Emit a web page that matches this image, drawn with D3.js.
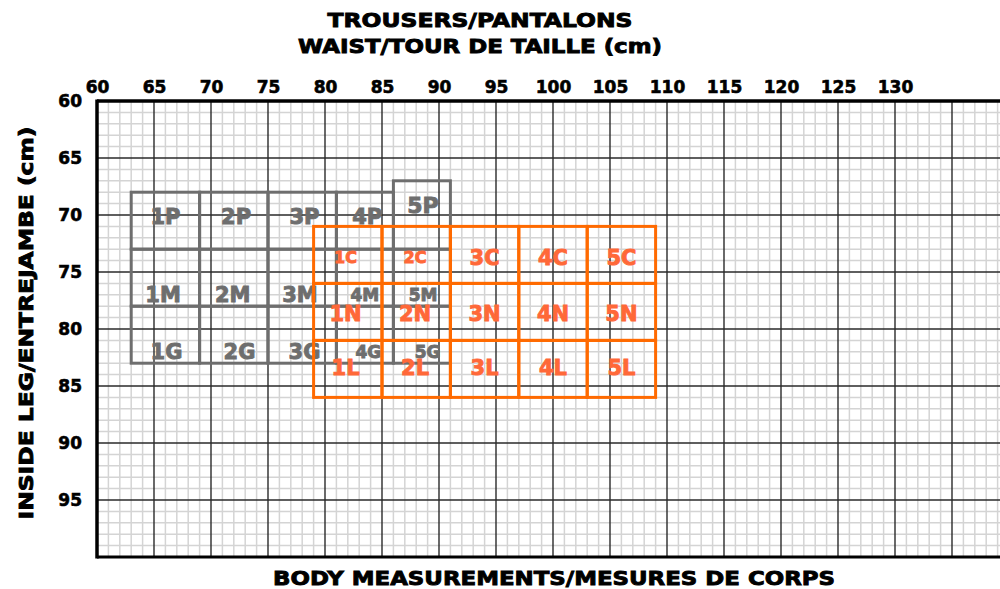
<!DOCTYPE html>
<html>
<head>
<meta charset="utf-8">
<script src="https://cdn.jsdelivr.net/npm/d3@7"></script>
<style>
  body { margin: 0; background: #fff; }
  text { font-family: "DejaVu Sans", sans-serif; font-weight: bold; }
</style>
</head>
<body>
<div id="chart"></div>
<script>
const width = 1000;
const height = 589;

// tick labels (cm)
const waistTicks = [60, 65, 70, 75, 80, 85, 90, 95, 100, 105, 110, 115, 120, 125, 130];
const legTicks = [60, 65, 70, 75, 80, 85, 90, 95];

// grey size boxes : waist from x0 to x1, inside leg from y0 to y1, label centre lx/ly
const greyCells = [
  {name: "1P", x0: 63, x1: 69, y0: 68, y1: 73, lx: 66,   ly: 70.1},
  {name: "2P", x0: 69, x1: 75, y0: 68, y1: 73, lx: 72.2, ly: 70.1},
  {name: "3P", x0: 75, x1: 81, y0: 68, y1: 73, lx: 78.2, ly: 70.1},
  {name: "4P", x0: 81, x1: 86, y0: 68, y1: 73, lx: 83.7, ly: 70.1},
  {name: "5P", x0: 86, x1: 91, y0: 67, y1: 73, lx: 88.6, ly: 69.1},
  {name: "1M", x0: 63, x1: 69, y0: 73, y1: 78, lx: 65.8, ly: 77},
  {name: "2M", x0: 69, x1: 75, y0: 73, y1: 78, lx: 71.9, ly: 77},
  {name: "3M", x0: 75, x1: 81, y0: 73, y1: 78, lx: 77.8, ly: 77},
  {name: "4M", x0: 81, x1: 86, y0: 73, y1: 78, lx: 83.5, ly: 77},
  {name: "5M", x0: 86, x1: 91, y0: 73, y1: 78, lx: 88.6, ly: 77},
  {name: "1G", x0: 63, x1: 69, y0: 78, y1: 83, lx: 66.1, ly: 82},
  {name: "2G", x0: 69, x1: 75, y0: 78, y1: 83, lx: 72.5, ly: 82},
  {name: "3G", x0: 75, x1: 81, y0: 78, y1: 83, lx: 78.2, ly: 82},
  {name: "4G", x0: 81, x1: 86, y0: 78, y1: 83, lx: 83.8, ly: 82},
  {name: "5G", x0: 86, x1: 91, y0: 78, y1: 83, lx: 89,   ly: 82}
];

// orange size boxes
const orangeCols = [79, 85, 91, 97, 103, 109];
const orangeRows = [71, 76, 81, 86];
const orangeRowNames = ["C", "N", "L"];
const orangeLabelX = [81.8, 87.9, 94, 100, 106];
const orangeLabelY = [73.7, 78.6, 83.4];

const smallLabels = ["4M", "5M", "4G", "5G", "1C", "2C"];

const grey = "#6e6e6e";
const orange = "#ff6a00";
const orangeText = "#ff6838";

let x = d3.scaleLinear().domain([60, 140]).range([97, 1009]);
let y = d3.scaleLinear().domain([60, 100]).range([101, 557]);

let svg = d3.select("#chart")
  .append("svg")
  .attr("width", width)
  .attr("height", height);

// minor grid
let minorX = d3.range(61, 140).filter(d => d % 5 != 0);
let minorY = d3.range(61, 100).filter(d => d % 5 != 0);

svg.append("g").selectAll("line")
  .data(minorX).enter()
  .append("line")
  .attr("x1", d => x(d)).attr("x2", d => x(d))
  .attr("y1", y(60)).attr("y2", y(100))
  .attr("stroke", "#d4d4d4").attr("stroke-width", 1.5);

svg.append("g").selectAll("line")
  .data(minorY).enter()
  .append("line")
  .attr("x1", x(60)).attr("x2", width)
  .attr("y1", d => y(d)).attr("y2", d => y(d))
  .attr("stroke", "#d4d4d4").attr("stroke-width", 1.5);

// major grid
svg.append("g").selectAll("line")
  .data(d3.range(65, 140, 5)).enter()
  .append("line")
  .attr("x1", d => x(d)).attr("x2", d => x(d))
  .attr("y1", y(60)).attr("y2", y(100))
  .attr("stroke", "#2a2a2a").attr("stroke-width", 1.4);

svg.append("g").selectAll("line")
  .data(d3.range(65, 100, 5)).enter()
  .append("line")
  .attr("x1", x(60)).attr("x2", width)
  .attr("y1", d => y(d)).attr("y2", d => y(d))
  .attr("stroke", "#2a2a2a").attr("stroke-width", 1.4);

// frame: left, top and bottom only
svg.append("line")
  .attr("x1", x(60)).attr("x2", x(60))
  .attr("y1", y(60) - 1.5).attr("y2", y(100) + 1.5)
  .attr("stroke", "#000").attr("stroke-width", 3.5);
svg.append("line")
  .attr("x1", x(60)).attr("x2", width)
  .attr("y1", y(60)).attr("y2", y(60))
  .attr("stroke", "#000").attr("stroke-width", 3.5);
svg.append("line")
  .attr("x1", x(60)).attr("x2", width)
  .attr("y1", y(100)).attr("y2", y(100))
  .attr("stroke", "#000").attr("stroke-width", 3);

// axes (labels only)
let xAxis = svg.append("g")
  .attr("transform", `translate(0,${y(60)})`)
  .call(d3.axisTop(x).tickValues(waistTicks).tickSize(0).tickPadding(8));
let yAxis = svg.append("g")
  .attr("transform", `translate(${x(60)},0)`)
  .call(d3.axisLeft(y).tickValues(legTicks).tickSize(0).tickPadding(15));

[xAxis, yAxis].forEach(g => {
  g.select(".domain").remove();
  g.selectAll("text")
    .attr("font-family", "DejaVu Sans")
    .attr("font-weight", "bold")
    .attr("font-size", 17)
    .attr("fill", "#000")
    .attr("stroke", "#000")
    .attr("stroke-width", 0.6);
});

// grey boxes
svg.append("g").selectAll("rect")
  .data(greyCells).enter()
  .append("rect")
  .attr("x", d => x(d.x0))
  .attr("y", d => y(d.y0))
  .attr("width", d => x(d.x1) - x(d.x0))
  .attr("height", d => y(d.y1) - y(d.y0))
  .attr("fill", "none")
  .attr("stroke", grey)
  .attr("stroke-width", 3);

svg.append("g").selectAll("text")
  .data(greyCells).enter()
  .append("text")
  .attr("x", d => x(d.lx))
  .attr("y", d => y(d.ly))
  .attr("dy", "0.365em")
  .attr("text-anchor", "middle")
  .attr("font-size", d => smallLabels.includes(d.name) ? 17 : (d.name == "5P" ? 22 : 21))
  .attr("fill", grey)
  .attr("stroke", grey)
  .attr("stroke-width", 0.9)
  .text(d => d.name);

// orange boxes
let orangeCells = [];
orangeRowNames.forEach((r, i) => {
  for (let j = 0; j < orangeCols.length - 1; j++) {
    orangeCells.push({
      name: (j + 1) + r,
      x0: orangeCols[j], x1: orangeCols[j + 1],
      y0: orangeRows[i], y1: orangeRows[i + 1],
      lx: orangeLabelX[j], ly: orangeLabelY[i]
    });
  }
});

svg.append("g").selectAll("rect")
  .data(orangeCells).enter()
  .append("rect")
  .attr("x", d => x(d.x0))
  .attr("y", d => y(d.y0))
  .attr("width", d => x(d.x1) - x(d.x0))
  .attr("height", d => y(d.y1) - y(d.y0))
  .attr("fill", "none")
  .attr("stroke", orange)
  .attr("stroke-width", 3);

svg.append("g").selectAll("text")
  .data(orangeCells).enter()
  .append("text")
  .attr("x", d => x(d.lx))
  .attr("y", d => y(d.ly))
  .attr("dy", "0.365em")
  .attr("text-anchor", "middle")
  .attr("font-size", d => smallLabels.includes(d.name) ? 16 : 21)
  .attr("fill", orangeText)
  .attr("stroke", orangeText)
  .attr("stroke-width", 0.9)
  .text(d => d.name);

// titles
function title(sel) {
  sel.attr("text-anchor", "middle")
    .attr("font-size", 20)
    .attr("fill", "#000")
    .attr("stroke", "#000")
    .attr("stroke-width", 0.9)
    .attr("lengthAdjust", "spacingAndGlyphs");
}

svg.append("text")
  .attr("x", 480).attr("y", 27)
  .call(title)
  .attr("textLength", 305)
  .text("TROUSERS/PANTALONS");

svg.append("text")
  .attr("x", 480).attr("y", 53)
  .call(title)
  .attr("textLength", 364)
  .text("WAIST/TOUR DE TAILLE (cm)");

svg.append("text")
  .attr("x", 554).attr("y", 585)
  .call(title)
  .attr("textLength", 562)
  .text("BODY MEASUREMENTS/MESURES DE CORPS");

svg.append("text")
  .attr("transform", "rotate(-90)")
  .attr("x", -323).attr("y", 33)
  .call(title)
  .attr("textLength", 393)
  .text("INSIDE LEG/ENTREJAMBE (cm)");
</script>
</body>
</html>
